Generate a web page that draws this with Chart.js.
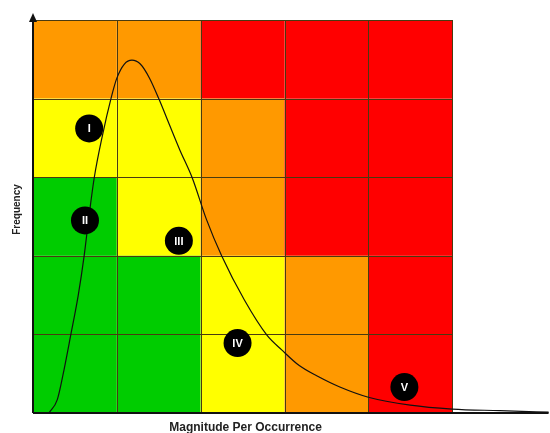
<!DOCTYPE html>
<html>
<head>
<meta charset="utf-8">
<script src="https://cdn.jsdelivr.net/npm/chart.js@4/dist/chart.umd.min.js"></script>
<style>
  html, body { margin: 0; padding: 0; background: #fff; }
  #wrap { width: 550px; height: 433px; }
</style>
</head>
<body>
<div id="wrap"><canvas id="riskChart" width="550" height="433"></canvas></div>
<script>
// risk matrix cells, top row first (Frequency high -> low), left to right (Magnitude low -> high)
const O = "#ff9900", Y = "#ffff00", G = "#00cc00", R = "#ff0000";
const cellColors = [
  [O, O, R, R, R],
  [Y, Y, O, R, R],
  [G, Y, O, R, R],
  [G, G, Y, O, R],
  [G, G, Y, O, R]
];

// distribution curve (magnitude, frequency)
const curveX = [0.19, 0.29, 0.37, 0.45, 0.54, 0.61, 0.67, 0.73, 0.83, 0.93, 1.0, 1.09, 1.18, 1.28, 1.39, 1.50, 1.63, 1.75, 1.90, 2.07, 2.25, 2.52, 2.79, 2.97, 3.18, 3.39, 3.66, 4.0, 4.5, 5.0, 5.57, 6.15];
const curveY = [0, 0.17, 0.55, 0.99, 1.50, 2.00, 2.52, 2.99, 3.54, 4.0, 4.26, 4.44, 4.49, 4.44, 4.26, 4.0, 3.66, 3.35, 2.99, 2.46, 2.0, 1.44, 0.99, 0.80, 0.60, 0.47, 0.33, 0.20, 0.10, 0.05, 0.03, 0.01];

// numbered markers
const markerLabels = ["I", "II", "III", "IV", "V"];
const markerX = [0.67, 0.62, 1.74, 2.44, 4.43];
const markerY = [3.62, 2.45, 2.19, 0.89, 0.33];

const gridCols = 5, gridRows = 5;
const axisEnd = 6.15;

const matrixPlugin = {
  id: "matrix",
  beforeDatasetsDraw(chart) {
    const { ctx, scales: { x, y } } = chart;
    ctx.save();
    for (let r = 0; r < gridRows; r++) {
      for (let c = 0; c < gridCols; c++) {
        const x0 = x.getPixelForValue(c), x1 = x.getPixelForValue(c + 1);
        const y0 = y.getPixelForValue(gridRows - r), y1 = y.getPixelForValue(gridRows - r - 1);
        ctx.fillStyle = cellColors[r][c];
        ctx.fillRect(x0, y0, x1 - x0, y1 - y0);
      }
    }
    ctx.strokeStyle = "#4a3a10";
    ctx.lineWidth = 1;
    for (let c = 1; c <= gridCols; c++) {
      const px = Math.round(x.getPixelForValue(c)) + 0.5;
      ctx.beginPath();
      ctx.moveTo(px, y.getPixelForValue(gridRows));
      ctx.lineTo(px, y.getPixelForValue(0));
      ctx.stroke();
    }
    for (let r = 1; r <= gridRows; r++) {
      const py = Math.round(y.getPixelForValue(r)) + 0.5;
      ctx.beginPath();
      ctx.moveTo(x.getPixelForValue(0), py);
      ctx.lineTo(x.getPixelForValue(gridCols), py);
      ctx.stroke();
    }
    ctx.restore();
  },
  afterDraw(chart) {
    const { ctx, scales: { x, y } } = chart;
    ctx.save();
    // axes
    const ax = x.getPixelForValue(0), ay = y.getPixelForValue(0);
    ctx.strokeStyle = "#111";
    ctx.lineWidth = 2;
    ctx.beginPath();
    ctx.moveTo(ax, ay);
    ctx.lineTo(ax, y.getPixelForValue(gridRows) - 2);
    ctx.moveTo(ax, ay);
    ctx.lineTo(x.getPixelForValue(axisEnd), ay);
    ctx.stroke();
    // arrow head
    ctx.fillStyle = "#111";
    ctx.beginPath();
    ctx.moveTo(ax, y.getPixelForValue(gridRows) - 7);
    ctx.lineTo(ax - 4, y.getPixelForValue(gridRows) + 2);
    ctx.lineTo(ax + 4, y.getPixelForValue(gridRows) + 2);
    ctx.closePath();
    ctx.fill();

    // marker numerals
    ctx.fillStyle = "#fff";
    ctx.font = "bold 11px Arial, 'Liberation Sans', sans-serif";
    ctx.textAlign = "center";
    ctx.textBaseline = "middle";
    markerLabels.forEach((t, i) => {
      ctx.fillText(t, x.getPixelForValue(markerX[i]), y.getPixelForValue(markerY[i]) + 1);
    });

    // axis titles
    ctx.fillStyle = "#222";
    ctx.font = "bold 12px Arial, 'Liberation Sans', sans-serif";
    ctx.fillText("Magnitude Per Occurrence", (x.getPixelForValue(0) + x.getPixelForValue(gridCols)) / 2 + 3, 428);
    ctx.font = "bold 10px Arial, 'Liberation Sans', sans-serif";
    ctx.translate(17, (y.getPixelForValue(0) + y.getPixelForValue(gridRows)) / 2 - 7);
    ctx.rotate(-Math.PI / 2);
    ctx.fillText("Frequency", 0, 0);
    ctx.restore();
  }
};

new Chart(document.getElementById("riskChart"), {
  type: "scatter",
  data: {
    datasets: [
      {
        type: "bubble",
        data: markerX.map((v, i) => ({ x: v, y: markerY[i], r: 14 })),
        backgroundColor: "#000",
        borderColor: "#000",
        borderWidth: 0
      },
      {
        type: "line",
        data: curveX.map((v, i) => ({ x: v, y: curveY[i] })),
        borderColor: "#111",
        borderWidth: 1.2,
        pointRadius: 0,
        tension: 0.4,
        cubicInterpolationMode: "monotone",
        fill: false,
        clip: false
      }
    ]
  },
  options: {
    responsive: false,
    animation: false,
    layout: { padding: { left: 33, right: 2, top: 20, bottom: 20 } },
    scales: {
      x: { type: "linear", min: 0, max: 6.0, display: false },
      y: { type: "linear", min: 0, max: 5, display: false }
    },
    plugins: {
      legend: { display: false },
      tooltip: { enabled: false }
    }
  },
  plugins: [matrixPlugin]
});
</script>
</body>
</html>
